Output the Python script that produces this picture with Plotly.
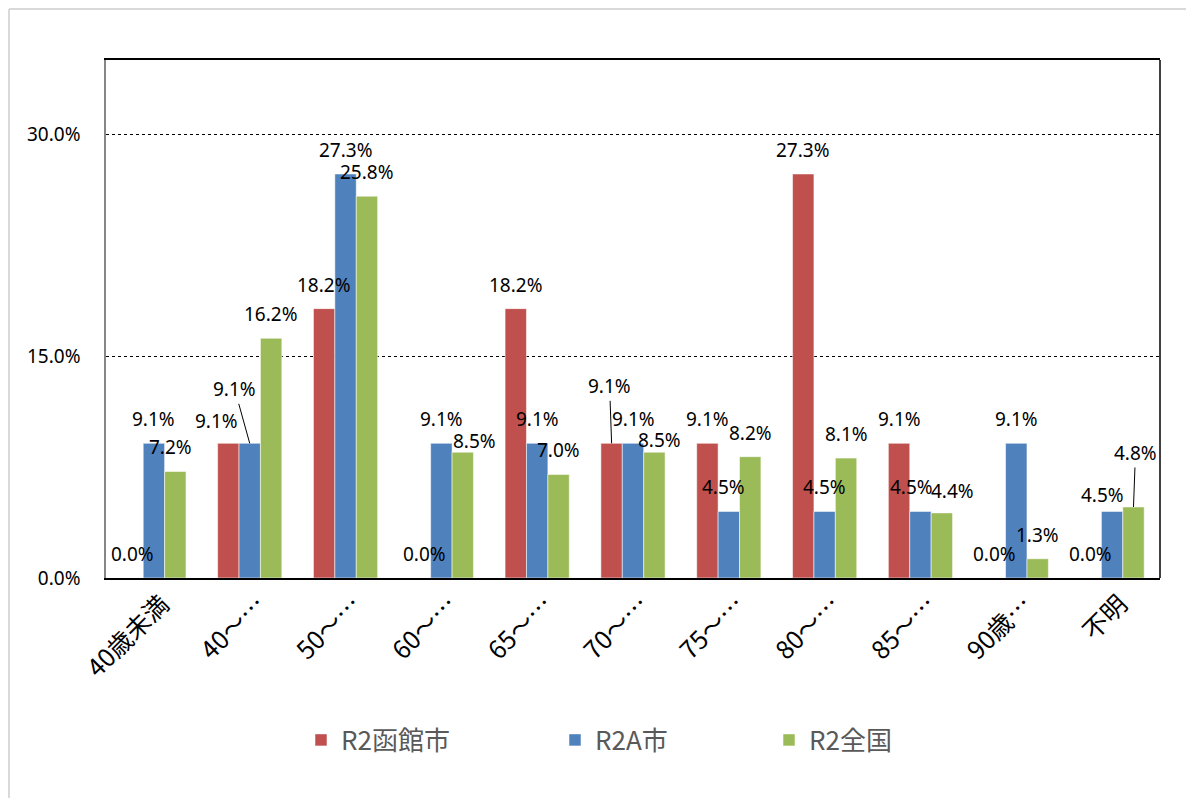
import plotly.graph_objects as go

categories = ["40歳未満", "40～…", "50～…", "60～…", "65～…", "70～…",
              "75～…", "80～…", "85～…", "90歳…", "不明"]
series_names = ["R2函館市", "R2A市", "R2全国"]
hakodate = [0.0, 9.1, 18.2, 0.0, 18.2, 9.1, 9.1, 27.3, 9.1, 0.0, 0.0]
a_city = [9.1, 9.1, 27.3, 9.1, 9.1, 9.1, 4.5, 4.5, 4.5, 9.1, 4.5]
national = [7.2, 16.2, 25.8, 8.5, 7.0, 8.5, 8.2, 8.1, 4.4, 1.3, 4.8]
y_ticks = [0, 15, 30]

colors = ["#C0504D", "#4F81BD", "#9BBB59"]
series_values = [hakodate, a_city, national]

# label placement tweaks (pixels): (dx, dy_up) or ("arrow", ax, ay)
label_offsets = [
    [(0, 0), (-12, -2), (0, 0), (5, 0), (0, 0), ("arrow", -2, -57), (0, 0), (0, 0), (0, 0), (0, 0), (0, 0)],
    [(0, 0), ("arrow", -15, -54), (0, 0), (0, 0), (0, 0), (0, 0), (-5, 0), (0, 0), (-9, 0), (0, 0), (-10, -8)],
    [(-5, 0), (0, 0), (0, 0), (12, -13), (0, 0), (5, -12), (0, 0), (0, 0), (11, -2), (0, 0), ("arrow", 2, -54)],
]

# the page places the figure 8px from the top-left corner
OFF = 8
W, H = 1194, 798
L, R, T, B = 106 - OFF, 34 + OFF, 60 - OFF, 220 + OFF
plot_w = W - L - R
plot_h = H - T - B
bargap = 0.33
bar_w = plot_w / len(categories) * (1 - bargap) / 3

label_font = dict(family="Noto Sans, Noto Sans CJK JP", size=19, color="black")

fig = go.Figure()
for i, (name, vals) in enumerate(zip(series_names, series_values)):
    fig.add_trace(go.Bar(
        x=categories, y=vals, name=name,
        marker=dict(color=colors[i], line=dict(color="rgba(255,255,255,0.7)", width=0.75)),
        legend="legend" if i == 0 else f"legend{i + 1}",
        hoverinfo="x+y+name",
    ))

annotations = []
for i, vals in enumerate(series_values):
    for j, v in enumerate(vals):
        off = label_offsets[i][j]
        text = f"{v:.1f}%"
        if off[0] == "arrow":
            annotations.append(dict(
                x=categories[j], y=v, xref="x", yref="y", text=text,
                xshift=(i - 1) * bar_w, showarrow=True, arrowhead=0,
                arrowwidth=1, arrowcolor="black", ax=off[1], ay=off[2],
                standoff=0, startstandoff=0, font=label_font,
            ))
        else:
            annotations.append(dict(
                x=categories[j], y=v, xref="x", yref="y", text=text,
                xshift=(i - 1) * bar_w + off[0], yshift=24 + off[1],
                yanchor="middle", xanchor="center", showarrow=False,
                font=label_font,
            ))

# legends positioned individually (figure pixel coordinates)
legend_font = dict(family="Noto Sans CJK JP", size=26, color="#595959")
legend_x = [293, 547, 761]
legend_common = dict(orientation="h", xref="container", yref="container",
                     y=(H - (740 - OFF)) / H, yanchor="middle", xanchor="left",
                     font=legend_font, bgcolor="rgba(0,0,0,0)")

border_y = (H - B - 1) / plot_h
border_x = (1 - L) / plot_w
shapes = [
    # plot frame right edge
    dict(type="line", xref="paper", yref="paper", x0=1, x1=1, y0=0, y1=1,
         line=dict(color="black", width=1.5)),
    # outer chart border (top & left)
    dict(type="line", xref="paper", yref="paper",
         x0=border_x, x1=(W + 10 - L) / plot_w, y0=border_y, y1=border_y,
         line=dict(color="#D9D9D9", width=2)),
    dict(type="line", xref="paper", yref="paper",
         x0=border_x, x1=border_x, y0=border_y, y1=-(B + 10) / plot_h,
         line=dict(color="#D9D9D9", width=2)),
]

fig.update_layout(
    width=W, height=H,
    margin=dict(l=L, r=R, t=T, b=B),
    paper_bgcolor="white", plot_bgcolor="white",
    barmode="group", bargap=bargap, bargroupgap=0,
    showlegend=True,
    legend=dict(x=legend_x[0] / W, **legend_common),
    legend2=dict(x=legend_x[1] / W, **legend_common),
    legend3=dict(x=legend_x[2] / W, **legend_common),
    annotations=annotations,
    shapes=shapes,
    xaxis=dict(
        tickangle=-45, tickfont=dict(family="Noto Sans CJK JP", size=25, color="black"),
        showline=True, linecolor="black", linewidth=1.5, mirror=True,
        ticks="", showgrid=False, ticklabelshift=8,
    ),
    yaxis=dict(
        range=[0, 35], tickvals=y_ticks, ticktext=[f"{t:.1f}%" for t in y_ticks],
        tickfont=dict(family="Noto Sans, Noto Sans CJK JP", size=19, color="black"),
        showline=True, linecolor="#868686", linewidth=1.5,
        showgrid=True, gridcolor="black", griddash="dot", gridwidth=1,
        zeroline=False, ticks="", ticklabelstandoff=20,
    ),
)

fig.write_html("out.html")
